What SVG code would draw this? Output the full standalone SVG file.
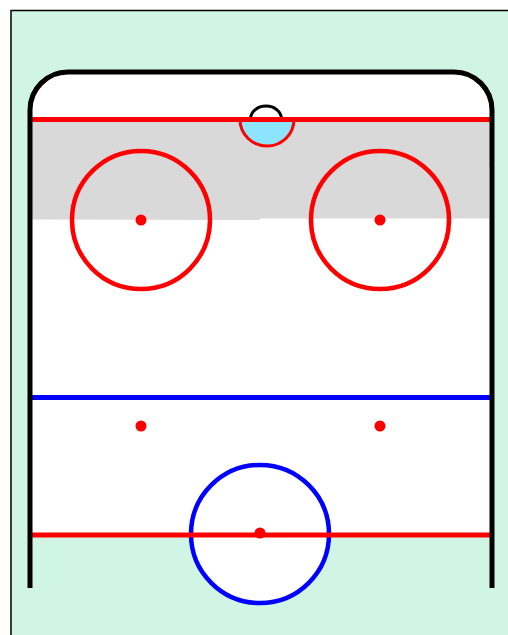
<svg xmlns="http://www.w3.org/2000/svg" width="508" height="635" viewBox="0 0 508 635">
<style>
.line{fill:none;stroke-width:5}
.red{stroke:#ff0000}
.dot{fill:#ff0000}
.ring{fill:none;stroke:#ff0000;stroke-width:4.500}
</style>
<rect x="0" y="0" width="508" height="635" fill="#ffffff"/>
<rect x="11" y="10.500" width="500" height="630" fill="#d0f5e5" stroke="#000000" stroke-width="1.500"/>
<path d="M30 535V110A38 38 0 0 1 68 72H454A38 38 0 0 1 492 110V535Z" fill="#ffffff"/>
<circle cx="260" cy="534" r="69" fill="#ffffff"/>
<path d="M32 120H490V167H489V218.500L260 218.500L260 220L32 219.500Z" fill="#d9d9d9"/>
<path d="M240 119.500A27 26.500 0 0 0 294 119.500Z" fill="#8ce4ff" stroke="#ff0000" stroke-width="3"/>
<path d="M250.500 119A15.500 13 0 0 1 281.500 119" fill="none" stroke="#000000" stroke-width="3"/>
<circle class="ring" cx="141" cy="220" r="69"/>
<circle class="ring" cx="380" cy="220" r="69"/>
<circle cx="260" cy="534" r="69" fill="none" stroke="#0000ff" stroke-width="4.500"/>
<path class="line red" d="M32 119.500H491"/>
<path class="line red" d="M32 535H491"/>
<path class="line" stroke="#0000ff" d="M32 397.500H491"/>
<circle class="dot" cx="141" cy="220" r="5.500"/>
<circle class="dot" cx="380" cy="220" r="5.500"/>
<circle class="dot" cx="141" cy="426" r="5.500"/>
<circle class="dot" cx="380" cy="426" r="5.500"/>
<circle class="dot" cx="260" cy="533" r="5.500"/>
<path d="M30 588V110A38 38 0 0 1 68 72H454A38 38 0 0 1 492 110V588" fill="none" stroke="#000000" stroke-width="5"/>
</svg>
